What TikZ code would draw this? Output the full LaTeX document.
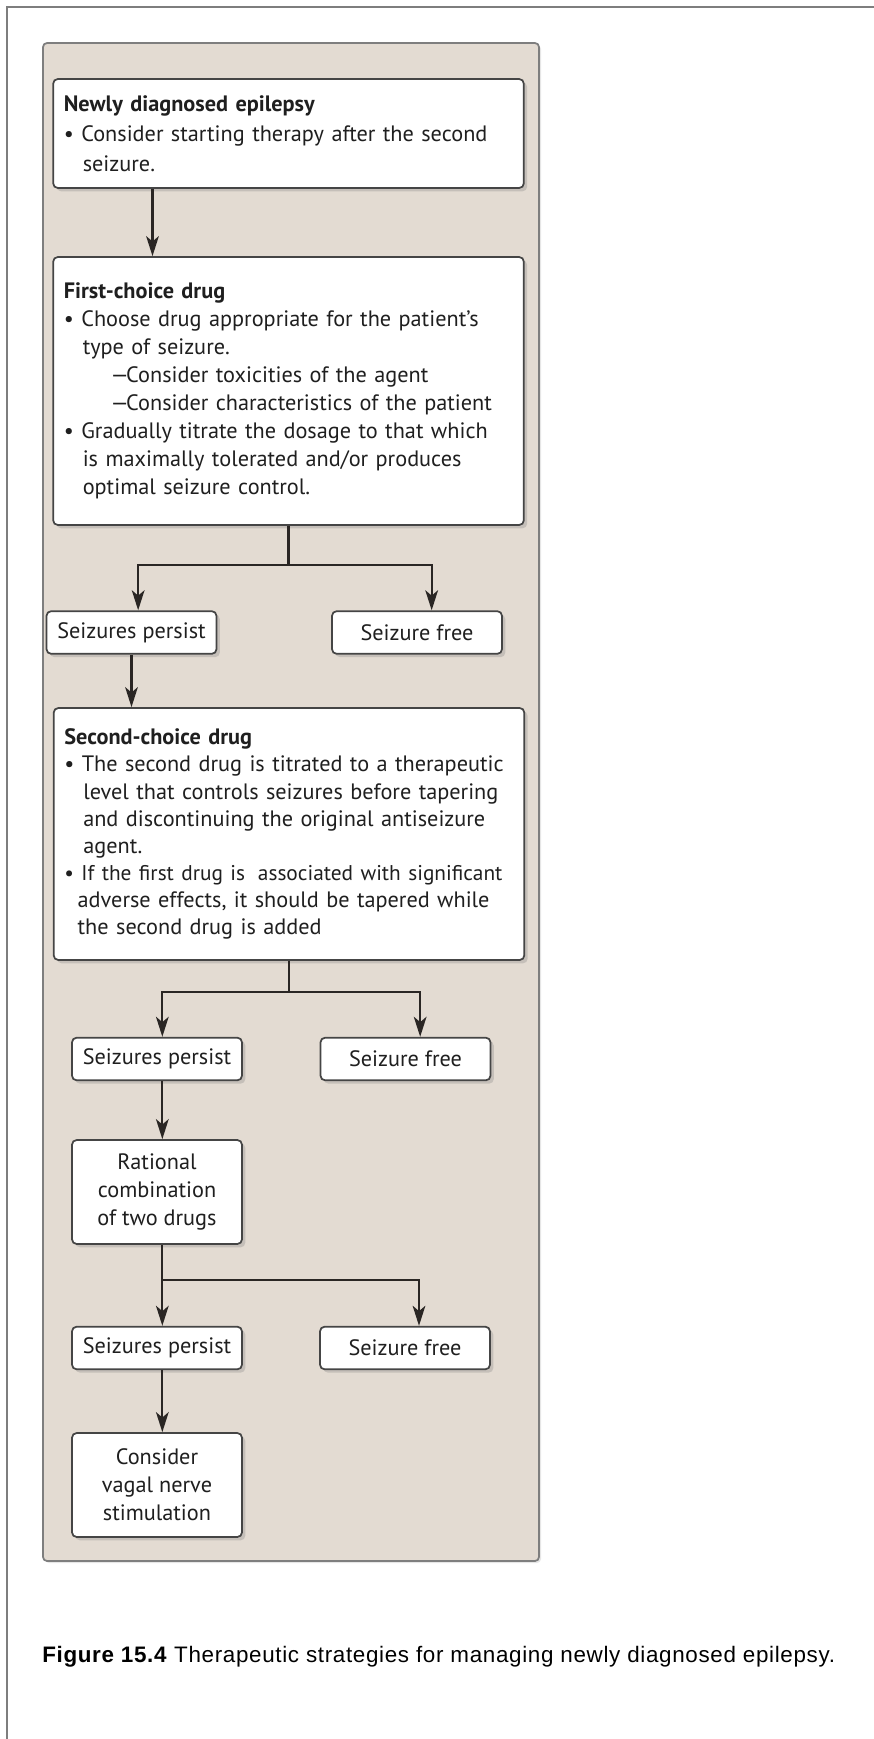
\documentclass[tikz,border=0pt]{standalone}
\usepackage{fontspec}
\setmainfont{PT Sans}
\newfontfamily\figcapfont[LetterSpace=3]{Liberation Sans}
\usepackage{tikz}
\usetikzlibrary{arrows.meta, positioning, calc, shadows}
\definecolor{panelbeige}{HTML}{E3DBD2}
\definecolor{framegray}{HTML}{7E7E7E}
\definecolor{boxgray}{HTML}{454545}
\definecolor{linedark}{HTML}{2A2624}
\colorlet{textdark}{black!88}

\begin{document}
\begin{tikzpicture}[
  x=0.75pt, y=-0.75pt,
  card/.style={fill=white, draw=boxgray, line width=1.3pt, rounded corners=3.5pt, inner sep=0pt, text=textdark,
    font=\fontsize{16.7}{21}\selectfont, drop shadow={shadow xshift=2.5pt, shadow yshift=-2.5pt, opacity=0.3}},
  bigcard/.style={card, minimum width=353pt, text width=337pt, align=left},
  smallcard/.style={card, minimum width=127.5pt, minimum height=32pt, align=center},
  tallcard/.style={smallcard, minimum height=78pt},
  link/.style={line width=1.7pt, draw=linedark},
  arr/.style={link, -{Stealth[length=15pt, width=9.5pt, inset=4pt]}}
]
  \useasboundingbox (0,0) rectangle (874,1739);
  \draw[framegray, line width=1.4pt] (7,1739) -- (7,7) -- (874,7);

  % panel
  \draw[fill=panelbeige, draw=framegray, line width=1.3pt, rounded corners=3pt,
    drop shadow={shadow xshift=1.5pt, shadow yshift=-1.5pt, opacity=0.2}] (43,43) rectangle (539,1561);

  \node[bigcard, minimum height=81.75pt, font=\fontsize{16.7}{22.5}\selectfont] (newly) at (288.5,133.5) {
    \textbf{Newly diagnosed epilepsy}\\
    \textbullet\ Consider starting therapy after the second\\
    \hspace*{0.85em}seizure.
  };

  \node[bigcard, minimum height=201pt] (first) at (288.5,391) {
    \textbf{First-choice drug}\\
    \textbullet\ Choose drug appropriate for the patient's\\
    \hspace*{0.85em}type of seizure.\\
    \hspace*{2.1em}\textemdash\kern-0.12em Consider toxicities of the agent\\
    \hspace*{2.1em}\textemdash\kern-0.12em Consider characteristics of the patient\\
    \textbullet\ Gradually titrate the dosage to that which\\
    \hspace*{0.85em}is maximally tolerated and/or produces\\
    \hspace*{0.85em}optimal seizure control.
  };

  \node[smallcard] (sp1) at (131.5,632.5) {Seizures persist};
  \node[smallcard] (sf1) at (417,632.5) {Seizure free};

  \node[bigcard, minimum height=189pt, font=\fontsize{16.7}{20.3}\selectfont] (second) at (289,834) {
    \textbf{Second-choice drug}\\
    \textbullet\ The second drug is titrated to a therapeutic\\
    \hspace*{0.85em}level that controls seizures before tapering\\
    \hspace*{0.85em}and discontinuing the original antiseizure\\
    \hspace*{0.85em}agent.\\
    \mbox{\fontsize{16}{20.3}\selectfont\textbullet\ If the first drug is\hspace{0.25em} associated with significant}\\
    \hspace*{0.6em}adverse effects, it should be tapered while\\
    \hspace*{0.6em}the second drug is added
  };

  \node[smallcard] (sp2) at (157,1059) {Seizures persist};
  \node[smallcard] (sf2) at (405.5,1059) {Seizure free};
  \node[tallcard] (rational) at (157,1192) {Rational\\combination\\of two drugs};
  \node[smallcard] (sp3) at (157,1348) {Seizures persist};
  \node[smallcard] (sf3) at (405,1348) {Seizure free};
  \node[tallcard] (vagal) at (157,1485) {Consider\\vagal nerve\\stimulation};

  % connectors
  \draw[arr] ([xshift=-102pt]newly.south) -- ([xshift=-102pt]first.north);

  \coordinate (fork1) at ($(first.south)+(0,39)$);
  \draw[link] (first.south) -- (fork1);
  \draw[arr] (fork1) -| ([xshift=5pt]sp1.north);
  \draw[arr] (fork1) -| ([xshift=11pt]sf1.north);
  \draw[arr] (sp1.south) -- (sp1.south |- second.north);

  \coordinate (fork2) at ($(second.south)+(0,31)$);
  \draw[link] (second.south) -- (fork2);
  \draw[arr] (fork2) -| ([xshift=4pt]sp2.north);
  \draw[arr] (fork2) -| ([xshift=11pt]sf2.north);
  \draw[arr] ([xshift=4pt]sp2.south) -- ([xshift=4pt]rational.north);

  \coordinate (fork3) at ($([xshift=4pt]rational.south)+(0,35)$);
  \draw[link] ([xshift=4pt]rational.south) -- (fork3);
  \draw[arr] (fork3) -- ([xshift=4pt]sp3.north);
  \draw[arr] (fork3) -| ([xshift=10.5pt]sf3.north);
  \draw[arr] ([xshift=4pt]sp3.south) -- ([xshift=4pt]vagal.north);

  \node[anchor=base west, inner sep=0pt, font=\figcapfont\fontsize{16.8}{19}\selectfont] (caption) at (42,1662)
    {\textbf{Figure 15.4} Therapeutic strategies for managing newly diagnosed epilepsy.};
\end{tikzpicture}
\end{document}
